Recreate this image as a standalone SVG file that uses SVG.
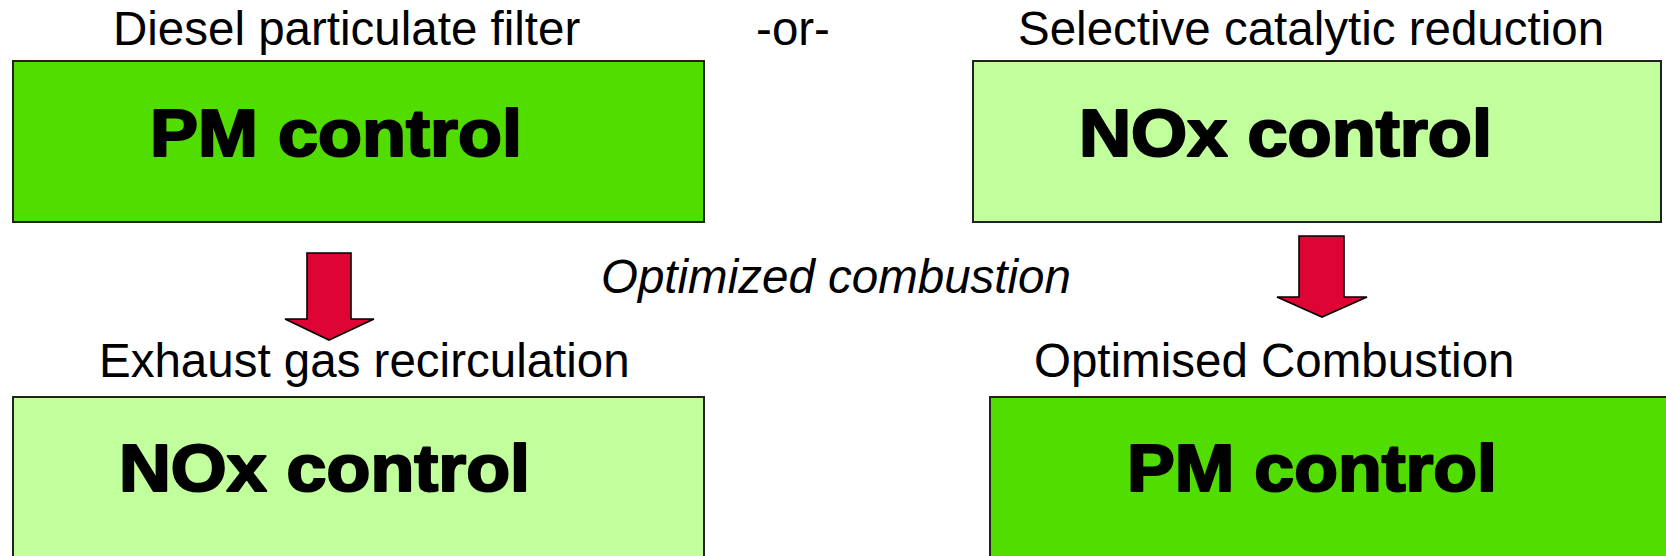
<svg xmlns="http://www.w3.org/2000/svg" width="1666" height="556" viewBox="0 0 1666 556">
<style>
.lbl{font-family:"Liberation Sans",Arial,sans-serif;font-size:47.5px;fill:#000}
.ital{font-style:italic}
.big{font-family:"Liberation Sans",Arial,sans-serif;font-weight:bold;font-size:66px;fill:#000;stroke:#000;stroke-width:2.2px;stroke-linejoin:round}
.dark{fill:#52DD00;stroke:#222;stroke-width:2}
.light{fill:#C1FF9C;stroke:#222;stroke-width:2}
.arrow{fill:#DE0433;stroke:#000;stroke-width:1.6;stroke-linejoin:miter}
</style>
<rect width="1666" height="556" fill="#fff"/>
<g id="labels">
<text class="lbl" x="113" y="45">Diesel particulate filter</text>
<text class="lbl" x="793" y="45" text-anchor="middle">-or-</text>
<text class="lbl" x="1018" y="45">Selective catalytic reduction</text>
<text class="lbl ital" x="601" y="293">Optimized combustion</text>
<text class="lbl" x="99" y="377">Exhaust gas recirculation</text>
<text class="lbl" x="1034" y="377">Optimised Combustion</text>
</g>
<g id="node-pm-top">
<rect class="dark" x="13" y="61" width="691" height="161"/>
<text class="big" x="150" y="156" textLength="372" lengthAdjust="spacingAndGlyphs">PM control</text>
</g>
<g id="node-nox-top">
<rect class="light" x="973" y="61" width="688" height="161"/>
<text class="big" x="1079" y="156" textLength="413" lengthAdjust="spacingAndGlyphs">NOx control</text>
</g>
<g id="node-nox-bottom">
<rect class="light" x="13" y="397" width="691" height="180"/>
<text class="big" x="119" y="491" textLength="411" lengthAdjust="spacingAndGlyphs">NOx control</text>
</g>
<g id="node-pm-bottom">
<rect class="dark" x="990" y="397" width="690" height="180"/>
<text class="big" x="1127" y="491" textLength="370" lengthAdjust="spacingAndGlyphs">PM control</text>
</g>
<g id="connectors">
<polygon class="arrow" points="307,253 351,253 351,319 374,319 329,340 285,319 307,319"/>
<polygon class="arrow" points="1299,236 1344,236 1344,297 1367,297 1322,317 1277,297 1299,297"/>
</g>
</svg>
